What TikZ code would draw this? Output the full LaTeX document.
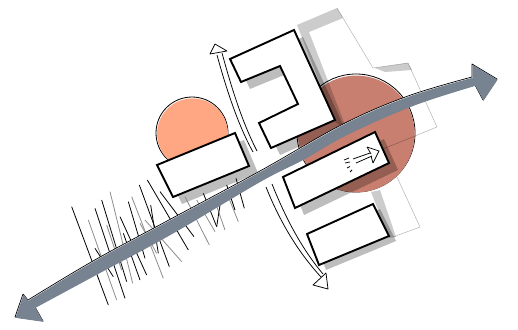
\documentclass[tikz,border=0pt]{standalone}
\definecolor{bigsalmon}{HTML}{C87F70}
\definecolor{smallsalmon}{HTML}{FFA682}
\definecolor{slategrey}{HTML}{788392}
\newcommand{\bigarrowpath}{(472,64) -- (497,79) -- (483,100) -- (475,85) -- plot[smooth,tension=.6] coordinates {(475,85) (413,105) (347,134) (303,159) (260,181) (172,233) (98,273) (35,307)} -- (43,321) -- (15,317) -- (23,294) -- (28,300) -- plot[smooth,tension=.6] coordinates {(28,300) (93,261) (167,221) (260,171) (343,124) (408,96) (472,77)} -- cycle}
\newcommand{\eshape}{(294,30) -- (335,120) -- (271,148) -- (259,123) -- (298,104) -- (280,66) -- (241,82) -- (230,59) -- cycle}
\newcommand{\rectA}{(157,165) -- (235,133) -- (249,166) -- (173,197) -- cycle}
\newcommand{\rectB}{(283,177) -- (375,132) -- (389,163) -- (295,208) -- cycle}
\newcommand{\rectC}{(307,234) -- (373,204) -- (389,236) -- (319,265) -- cycle}
\tikzset{
  shade band/.style={fill=black,fill opacity=.2,draw=none},
  cast/.style={fill=black,fill opacity=.26,draw=none},
  block/.style={fill=white,draw=black,line width=1.9pt,line join=miter},
  thin guide/.style={draw=black,draw opacity=.3,line width=.5pt},
  ink/.style={draw=black,line width=.75pt},
  hatch/.style={draw=black,line width=.8pt},
  hatch light/.style={draw=black!45,line width=.8pt},
  sketch arrow/.style={fill=white,draw=black,line width=.75pt,line join=round}
}
\begin{document}
\begin{tikzpicture}[x=1pt,y=-1pt]
\useasboundingbox (0,0) rectangle (518,329);
% circles
\fill[white,draw=black,line width=.8pt] (356,133) circle (59);
\fill[bigsalmon] (356.3,134) circle (58.4);
\fill[white,draw=black,line width=.8pt] (192,133) circle (36);
\fill[smallsalmon] (192.5,133.8) circle (35.4);
% site outline and wide grey bands
\draw[thin guide] (337,8) -- (373,68) -- (408,63) -- (437,127) -- (383,149);
\draw[thin guide] (393,237) -- (420,227) -- (397,177);
\path[shade band] (297,25) -- (337,8) -- (343,18) -- (309,32) -- (347,130) -- (335,122) -- cycle;
\path[shade band] (375,68) -- (408,63) -- (412,70) -- (385,72) -- cycle;
\path[shade band] (371,192) -- (380,190) -- (396,237) -- (389,238) -- cycle;
% cast shadows
\path[cast,shift={(9,7)}] \eshape;
\path[cast,shift={(9,7)}] \rectA;
\path[cast,shift={(9,7)}] \rectB;
\path[cast,shift={(7,5)}] \rectC;
% hatching
\begin{scope}[shift={(0,90)},x=.33333pt,y=-.33333pt]
\foreach \a/\b/\c/\d in {265/390/350/630, 330/305/398/580, 320/405/365/540, 395/320/490/565, 420/400/470/490, 435/390/545/515, 555/320/628/465, 590/330/645/425, 640/320/675/420, 685/320/715/395}
  \draw[hatch light] (\a,\b) -- (\c,\d);
\foreach \a/\b/\c/\d in {215/350/325/645, 285/355/375/625, 305/330/380/575, 360/380/440/555, 385/335/435/505, 418/285/508/530, 442/270/565/480, 480/305/582/440, 452/345/475/490, 610/310/650/410, 660/345/650/410, 680/285/705/360, 708/265/733/355, 285/475/340/560, 370/430/420/570}
  \draw[hatch] (\a,\b) -- (\c,\d);
\end{scope}
% white blocks
\draw[block] \eshape;
\draw[block] \rectA;
\draw[block] \rectB;
\draw[block] \rectC;
% movement arrows beside the blocks
\draw[ink] (217,55) .. controls (226,88) and (238,125) .. (253,152);
\draw[ink] (222,53) .. controls (231,86) and (242,122) .. (257,151);
\draw[sketch arrow] (215,44) -- (227,51) -- (210,54) -- cycle;
\draw[ink] (266,187) .. controls (280,222) and (298,252) .. (321,277);
\draw[ink] (272,184) .. controls (286,219) and (302,249) .. (323,274);
\draw[sketch arrow] (313,285) -- (326,273) -- (328,289) -- cycle;
% small arrow in the block
\draw[ink] (353,159) -- (370,153);
\draw[ink] (356,163) -- (372,156);
\draw[ink] (367,147) -- (379,151) -- (373,163);
\draw[ink] (367,147) -- (371,154);
\draw[ink] (373,163) -- (371,156);
\draw[ink] (345,163) -- (350,162);
\draw[ink] (347,168) -- (350,166.5);
\draw[ink] (350,172) -- (352,170);
\draw[ink] (344,160) -- (349,158);
% large curved arrow
\draw[fill=white,draw=black,line width=.7pt,line join=round] \bigarrowpath;
\fill[slategrey,shift={(.5,.8)}] \bigarrowpath;
\end{tikzpicture}
\end{document}
